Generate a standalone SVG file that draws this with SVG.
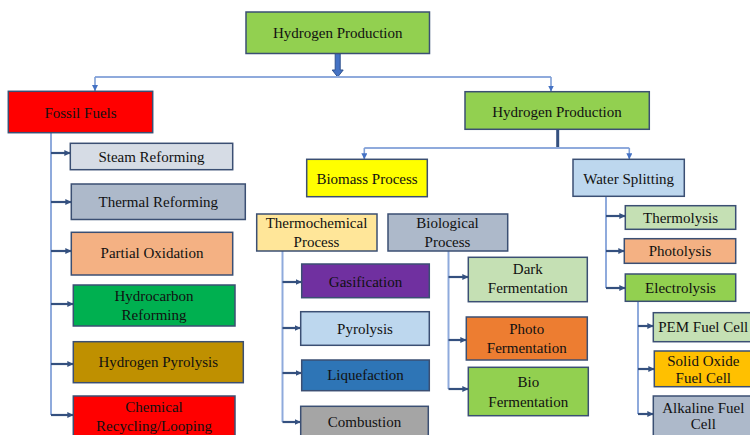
<svg xmlns="http://www.w3.org/2000/svg" width="750" height="435" viewBox="0 0 750 435" font-family="Liberation Serif, DejaVu Serif, serif">
<style>
.b{stroke:#3B4F73;stroke-width:1.5}
.t{font-size:15px;fill:#111;text-anchor:middle}
.v{stroke:#8FAADC;stroke-width:2;fill:none}
.a{stroke:#34507F;stroke-width:2.2;fill:none;marker-end:url(#ah)}
.s{stroke:#7F9FD6;stroke-width:1.6;fill:none;marker-end:url(#sh)}
</style>
<defs>
<marker id="ah" markerUnits="userSpaceOnUse" markerWidth="6" markerHeight="6" refX="6" refY="3" orient="auto"><path d="M0,0 L6,3 L0,6 z" fill="#34507F"/></marker>
<marker id="sh" markerUnits="userSpaceOnUse" markerWidth="6" markerHeight="6" refX="6" refY="3" orient="auto"><path d="M0,0 L6,3 L0,6 z" fill="#4472C4"/></marker>
</defs>
<rect width="750" height="435" fill="#fff"/>
<g id="connectors">
<path d="M335.2,53 h5 v17 h3 l-5.5,7 l-5.5,-7 h3 z" fill="#4472C4" stroke="#2F528F" stroke-width="1"/>
<path class="v" d="M95,77 H551"/>
<path class="s" d="M95,77 V91"/>
<path class="s" d="M551,77 V91.5"/>
<path d="M557.7,129.5 V148" stroke="#34507F" stroke-width="3" fill="none"/>
<path class="v" d="M364.3,148 H629.3"/>
<path class="s" d="M364.3,148 V159.3"/>
<path class="s" d="M629.3,148 V159.3"/>
<path class="v" d="M51,133 V415"/>
<path class="a" d="M51,153 H70.3"/>
<path class="a" d="M51,202 H71.3"/>
<path class="a" d="M51,251 H71.3"/>
<path class="a" d="M51,304 H73.3"/>
<path class="a" d="M51,364 H73.3"/>
<path class="a" d="M51,415 H73.3"/>
<path class="v" d="M282.5,251 V422"/>
<path class="a" d="M282.5,282 H301.7"/>
<path class="a" d="M282.5,328 H300.7"/>
<path class="a" d="M282.5,373 H301.7"/>
<path class="a" d="M282.5,422 H300.7"/>
<path class="v" d="M448.5,251 V389"/>
<path class="a" d="M448.5,277 H468.3"/>
<path class="a" d="M448.5,340 H466.3"/>
<path class="a" d="M448.5,389 H468.3"/>
<path class="v" d="M606,196.5 V288"/>
<path class="a" d="M606,216 H625.3"/>
<path class="a" d="M606,251 H624.3"/>
<path class="a" d="M606,288 H625.3"/>
<path class="v" d="M638,301.5 V414"/>
<path class="a" d="M638,326 H653.3"/>
<path class="a" d="M638,369 H654.3"/>
<path class="a" d="M638,414 H653.3"/>
</g>
<g id="n-top"><rect class="b" x="246" y="12" width="183.5" height="41.5" fill="#92D050"/><text class="t" x="337.7" y="38">Hydrogen Production</text></g>
<g id="n-fossil"><rect class="b" x="8.3" y="91.3" width="144.4" height="41.4" fill="#FF0000"/><text class="t" x="80.5" y="118">Fossil Fuels</text></g>
<g id="n-hp2"><rect class="b" x="465" y="91.7" width="184.3" height="37.6" fill="#92D050"/><text class="t" x="557" y="117">Hydrogen Production</text></g>
<g id="n-steam"><rect class="b" x="70.3" y="143.3" width="162.4" height="26.4" fill="#D6DCE5"/><text class="t" x="151.5" y="161.7">Steam Reforming</text></g>
<g id="n-thermal"><rect class="b" x="71.3" y="184" width="174" height="35.5" fill="#ADB9CA"/><text class="t" x="158.3" y="207">Thermal Reforming</text></g>
<g id="n-partial"><rect class="b" x="71.3" y="232.3" width="161.4" height="42.7" fill="#F4B183"/><text class="t" x="152" y="258">Partial Oxidation</text></g>
<g id="n-hydrocarbon"><rect class="b" x="73.3" y="285" width="161.7" height="41" fill="#00B050"/><text class="t" x="154" y="301">Hydrocarbon</text><text class="t" x="154" y="320">Reforming</text></g>
<g id="n-hpyro"><rect class="b" x="73.3" y="341.7" width="170" height="41" fill="#BF9000"/><text class="t" x="158.3" y="366.7">Hydrogen Pyrolysis</text></g>
<g id="n-chem"><rect class="b" x="73.3" y="396" width="161.7" height="45" fill="#FF0000"/><text class="t" x="154" y="411.7">Chemical</text><text class="t" x="154" y="430.7">Recycling/Looping</text></g>
<g id="n-biomass"><rect class="b" x="306.7" y="159.3" width="120.6" height="37.4" fill="#FFFF00"/><text class="t" x="367" y="184">Biomass Process</text></g>
<g id="n-water"><rect class="b" x="573" y="159.3" width="111.3" height="37" fill="#BDD7EE"/><text class="t" x="628.7" y="184">Water Splitting</text></g>
<g id="n-thermochem"><rect class="b" x="256.7" y="214" width="120.3" height="37" fill="#FFE699"/><text class="t" x="316.5" y="228.3">Thermochemical</text><text class="t" x="316.5" y="246.7">Process</text></g>
<g id="n-biological"><rect class="b" x="388" y="214" width="119.7" height="37" fill="#ADB9CA"/><text class="t" x="447.5" y="228.3">Biological</text><text class="t" x="447.5" y="246.7">Process</text></g>
<g id="n-gasification"><rect class="b" x="301.7" y="264" width="127.6" height="33.7" fill="#7030A0"/><text class="t" x="365.5" y="286.7">Gasification</text></g>
<g id="n-pyrolysis"><rect class="b" x="300.7" y="311.7" width="128.6" height="33.6" fill="#BDD7EE"/><text class="t" x="365" y="334">Pyrolysis</text></g>
<g id="n-liquefaction"><rect class="b" x="301.7" y="360" width="127.6" height="30.7" fill="#2E75B6"/><text class="t" x="365.5" y="380">Liquefaction</text></g>
<g id="n-combustion"><rect class="b" x="300.7" y="406.3" width="127.6" height="35" fill="#A5A5A5"/><text class="t" x="364.5" y="427.3">Combustion</text></g>
<g id="n-dark"><rect class="b" x="468.3" y="257.3" width="119" height="44.4" fill="#C5E0B4"/><text class="t" x="527.8" y="274.3">Dark</text><text class="t" x="527.8" y="293.3">Fermentation</text></g>
<g id="n-photo"><rect class="b" x="466.3" y="317" width="121" height="43" fill="#ED7D31"/><text class="t" x="526.8" y="334">Photo</text><text class="t" x="526.8" y="353.3">Fermentation</text></g>
<g id="n-bio"><rect class="b" x="468.3" y="367.3" width="120" height="48.4" fill="#92D050"/><text class="t" x="528.3" y="386.7">Bio</text><text class="t" x="528.3" y="406.7">Fermentation</text></g>
<g id="n-thermolysis"><rect class="b" x="625.3" y="205.7" width="110.4" height="23.6" fill="#C5E0B4"/><text class="t" x="680.5" y="222.7">Thermolysis</text></g>
<g id="n-photolysis"><rect class="b" x="624.3" y="238.7" width="111.4" height="24.6" fill="#F4B183"/><text class="t" x="680" y="256">Photolysis</text></g>
<g id="n-electrolysis"><rect class="b" x="625.3" y="274" width="110.4" height="27.3" fill="#92D050"/><text class="t" x="680.5" y="292.7">Electrolysis</text></g>
<g id="n-pem"><rect class="b" x="653.3" y="312.7" width="100" height="29" fill="#C5E0B4"/><text class="t" x="703.3" y="331.7">PEM Fuel Cell</text></g>
<g id="n-solid"><rect class="b" x="654.3" y="351" width="99" height="35.7" fill="#FFC000"/><text class="t" x="703.3" y="365.7">Solid Oxide</text><text class="t" x="703.3" y="383.3">Fuel Cell</text></g>
<g id="n-alkaline"><rect class="b" x="653.3" y="396" width="100" height="45" fill="#ADB9CA"/><text class="t" x="703.3" y="412.7">Alkaline Fuel</text><text class="t" x="703.3" y="429.3">Cell</text></g>
</svg>
